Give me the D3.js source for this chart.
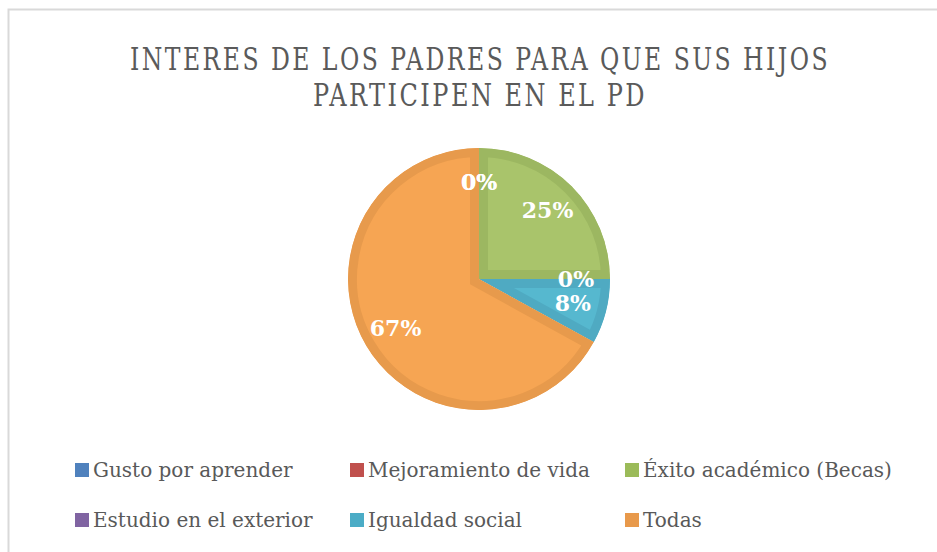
<!DOCTYPE html>
<html>
<head>
<meta charset="utf-8">
<script src="https://cdn.jsdelivr.net/npm/d3@7"></script>
<style>
  body { margin: 0; background: #fff; }
  svg { display: block; }
</style>
</head>
<body>
<svg id="chart" width="937" height="552"></svg>
<script>
// chart data
var titleLines = ["INTERES DE LOS PADRES PARA QUE SUS HIJOS", "PARTICIPEN EN EL PD"];
var categories = ["Gusto por aprender", "Mejoramiento de vida", "Éxito académico (Becas)",
                  "Estudio en el exterior", "Igualdad social", "Todas"];
var values = [0, 0, 25, 0, 8, 67];
var baseColors = ["#4F81BD", "#C0504D", "#9BBB59", "#8064A2", "#4BACC6", "#E8994B"];
var lightColors = ["#5B8FCC", "#CC5C59", "#A9C46B", "#8E72B0", "#56B8CF", "#F6A553"];
var edgeColors = ["#4A78B0", "#B34A47", "#9CB761", "#785E98", "#4FAAC2", "#E79A4C"];

var svg = d3.select("#chart");
var width = 937, height = 552;

// outer frame
svg.append("rect")
  .attr("x", 8.5).attr("y", 9.5)
  .attr("width", width + 10).attr("height", height + 10)
  .attr("fill", "none")
  .attr("stroke", "#D9D9D9")
  .attr("stroke-width", 2);

// title (condensed look: squeeze glyphs to the width of the original)
var titleWidths = [700, 334];
svg.append("g").selectAll("text")
  .data(titleLines)
  .enter().append("text")
  .attr("x", 480)
  .attr("y", function (d, i) { return 70 + i * 36; })
  .attr("text-anchor", "middle")
  .attr("textLength", function (d, i) { return titleWidths[i]; })
  .attr("lengthAdjust", "spacingAndGlyphs")
  .style("font-family", "'DejaVu Serif Condensed', 'DejaVu Serif', serif")
  .style("font-size", "32px")
  .style("letter-spacing", "3px")
  .attr("fill", "#5a5a5a")
  .text(function (d) { return d; });

// pie
var cx = 479, cy = 279, radius = 131;
var pie = d3.pie().sort(null).value(function (d) { return d; });
var arcs = pie(values);
var arc = d3.arc().innerRadius(0).outerRadius(radius);
var labelArc = d3.arc().innerRadius(radius * 0.74).outerRadius(radius * 0.74);

var pieG = svg.append("g").attr("transform", "translate(" + cx + "," + cy + ")");
var defs = svg.append("defs");

arcs.forEach(function (d, i) {
  if (d.value === 0) return;
  defs.append("clipPath").attr("id", "clip" + i)
    .append("path").attr("d", arc(d));
  pieG.append("path")
    .attr("d", arc(d))
    .attr("clip-path", "url(#clip" + i + ")")
    .attr("fill", lightColors[i])
    .attr("stroke", edgeColors[i])
    .attr("stroke-width", 18)
    .attr("stroke-linejoin", "miter");
});

pieG.selectAll("text.lbl")
  .data(arcs)
  .enter().append("text")
  .attr("class", "lbl")
  .attr("transform", function (d) { return "translate(" + labelArc.centroid(d) + ")"; })
  .attr("dy", "0.35em")
  .attr("text-anchor", "middle")
  .style("font-family", "'DejaVu Serif', serif")
  .style("font-weight", "bold")
  .style("font-size", "22px")
  .attr("fill", "#fff")
  .text(function (d) { return Math.round(d.value) + "%"; });

// legend
var legend = svg.append("g");
var item = legend.selectAll("g")
  .data(categories)
  .enter().append("g")
  .attr("transform", function (d, i) {
    return "translate(" + (75 + (i % 3) * 275) + "," + (463 + Math.floor(i / 3) * 50) + ")";
  });
item.append("rect")
  .attr("width", 14).attr("height", 14)
  .attr("fill", function (d, i) { return baseColors[i]; });
item.append("text")
  .attr("x", 18).attr("y", 14)
  .style("font-family", "'DejaVu Serif', serif")
  .style("font-size", "20px")
  .attr("fill", "#595959")
  .text(function (d) { return d; });
</script>
</body>
</html>
